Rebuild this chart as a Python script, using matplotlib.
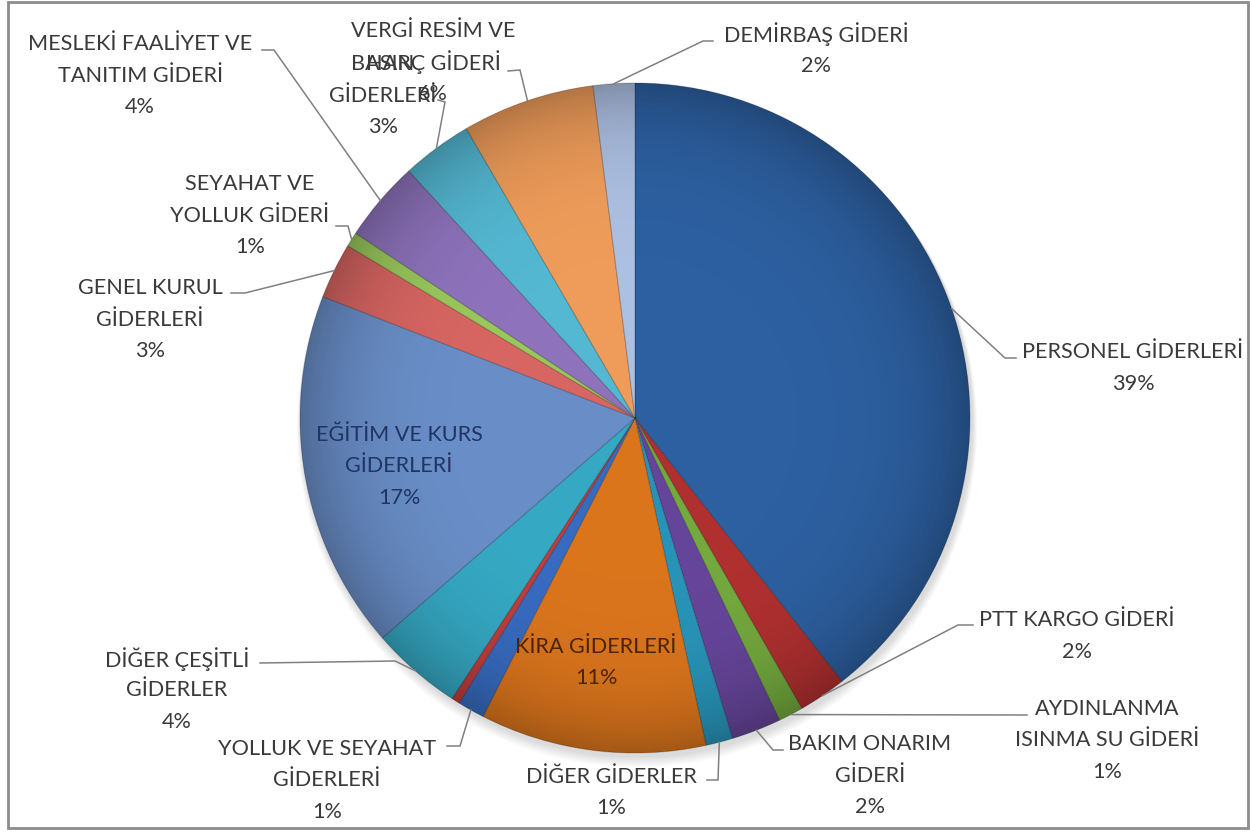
import numpy as np
import matplotlib
matplotlib.use("Agg")
import matplotlib.pyplot as plt
from matplotlib.patches import Rectangle, Circle

plt.rcParams['font.family'] = ['Lato', 'DejaVu Sans']
plt.rcParams['hatch.color'] = "#D0D0D0"
plt.rcParams['hatch.linewidth'] = 1.0

# ---- data (clockwise from 12 o'clock) ----
categories = [
    "PERSONEL GİDERLERİ",
    "PTT KARGO GİDERİ",
    "AYDINLANMA\nISINMA SU GİDERİ",
    "BAKIM ONARIM\nGİDERİ",
    "DİĞER GİDERLER",
    "KİRA GİDERLERİ",
    "YOLLUK VE SEYAHAT\nGİDERLERİ",
    "",
    "DİĞER ÇEŞİTLİ\nGİDERLER",
    "EĞİTİM VE KURS\nGİDERLERİ",
    "GENEL KURUL\nGİDERLERİ",
    "SEYAHAT VE\nYOLLUK GİDERİ",
    "MESLEKİ FAALİYET VE\nTANITIM GİDERİ",
    "BASIN\nGİDERLERİ",
    "VERGİ RESİM VE\nHARÇ GİDERİ",
    "DEMİRBAŞ GİDERİ",
]
values = [39.4, 2.3, 1.2, 2.4, 1.3, 10.9, 1.3, 0.4, 4.4, 17.3, 2.7, 0.7, 3.9, 3.4, 6.4, 2.0]

colors = ["#2F64A8", "#B83232", "#78B040", "#6A48A0", "#2A9AC0", "#E47A1E",
          "#3A70C8", "#C84040", "#38B0CC", "#6E94D0", "#E06A66", "#A0D060",
          "#9478C4", "#58C0DC", "#F9A35E", "#B4C8EC"]

# ---- layout (image pixel coords, y downward) ----
W, H = 1250, 832
CX, CY, R = 635, 418, 335
layout = {
    0: dict(pos=(1133, 352), leader=[(1005, 358), (1016, 358)]),
    1: dict(pos=(1077, 620), leader=[(958, 625), (973, 625)]),
    2: dict(pos=(1107, 709), leader=[(1018, 715), (1027, 715)]),
    3: dict(pos=(870, 744), leader=[(773, 750), (783, 750)]),
    4: dict(pos=(611, 777), leader=[(718, 780), (707, 780)]),
    5: dict(pos=(596, 647), leader=None, color="#4A2404"),
    6: dict(pos=(327, 749), leader=[(460, 746), (447, 746)]),
    8: dict(pos=(177, 659), leader=[(395, 661), (260, 663)]),
    9: dict(pos=(399, 435), leader=None, color="#1E3566"),
    10: dict(pos=(150, 288), leader=[(245, 293), (231, 293)]),
    11: dict(pos=(250, 184), leader=[(348, 226), (336, 226)]),
    12: dict(pos=(140, 44), leader=[(274, 50), (262, 50)]),
    13: dict(pos=(383, 64), leader=[(445, 102), (438, 100)]),
    14: dict(pos=(433, 31), leader=[(520, 70), (508, 71)]),
    15: dict(pos=(816, 34), leader=[(703, 41), (713, 41)]),
}
LINE_H = 31.5
TXT = "#3A3A3A"
FS = 15.6

fig = plt.figure(figsize=(12.5, 8.32), dpi=100)
ax = fig.add_axes([0, 0, 1, 1])

def Y(y):
    return H - y

# soft shadow under the pie
for k in range(6):
    ax.add_patch(Circle((CX + 2, Y(CY) - 4 - k), R + 1 + k * 0.8, facecolor="black",
                        alpha=0.025, edgecolor="none", zorder=0.5))

wedges, _ = ax.pie(values, colors=colors, startangle=90, counterclock=False,
                   center=(CX, Y(CY)), radius=R,
                   wedgeprops=dict(edgecolor="#00000030", linewidth=0.8))

# subtle shading overlay (darker toward the rim)
n = 400
xs = np.linspace(-1, 1, n)
xx, yy = np.meshgrid(xs, xs)
rr = np.sqrt(xx**2 + yy**2)
alpha = np.clip(0.04 + 0.24 * rr**6, 0, 0.3)
img = np.zeros((n, n, 4))
img[..., 3] = alpha
im = ax.imshow(img, extent=(CX - R, CX + R, Y(CY) - R, Y(CY) + R), origin="lower",
               zorder=3, interpolation="bilinear")
clip = Circle((CX, Y(CY)), R, transform=ax.transData)
im.set_clip_path(clip)

total = sum(values)
for i, (name, v, w) in enumerate(zip(categories, values, wedges)):
    mid = (w.theta1 + w.theta2) / 2.0
    if i not in layout or not name:
        continue
    L = layout[i]
    lines = name.split("\n") + [f"{round(v / total * 100)}%"]
    x0, y0 = L["pos"]
    col = L.get("color", TXT)
    for k, s in enumerate(lines):
        ax.text(x0, Y(y0 + k * LINE_H), s, ha="center", va="center",
                fontsize=FS, color=col, zorder=6)
    if L["leader"]:
        ang = np.deg2rad(mid)
        ax0 = CX + R * np.cos(ang)
        ay0 = Y(CY) + R * np.sin(ang)
        px = [ax0] + [p[0] for p in L["leader"]]
        py = [ay0] + [Y(p[1]) for p in L["leader"]]
        ax.plot(px, py, color="#808080", lw=1.1, zorder=5, solid_joinstyle="miter")

# chart frame and hatched sheet margin
ax.add_patch(Rectangle((0, 0), 7, H, facecolor="white", edgecolor="none", hatch="\\\\",
                       zorder=1))
ax.add_patch(Rectangle((8, Y(828)), 1240, 826, fill=False, edgecolor="#8C8C8C", lw=2, zorder=7))

ax.set_xlim(0, W)
ax.set_ylim(0, H)
ax.set_aspect("auto")
ax.axis("off")
fig.savefig("out.png", dpi=100, facecolor="white")
